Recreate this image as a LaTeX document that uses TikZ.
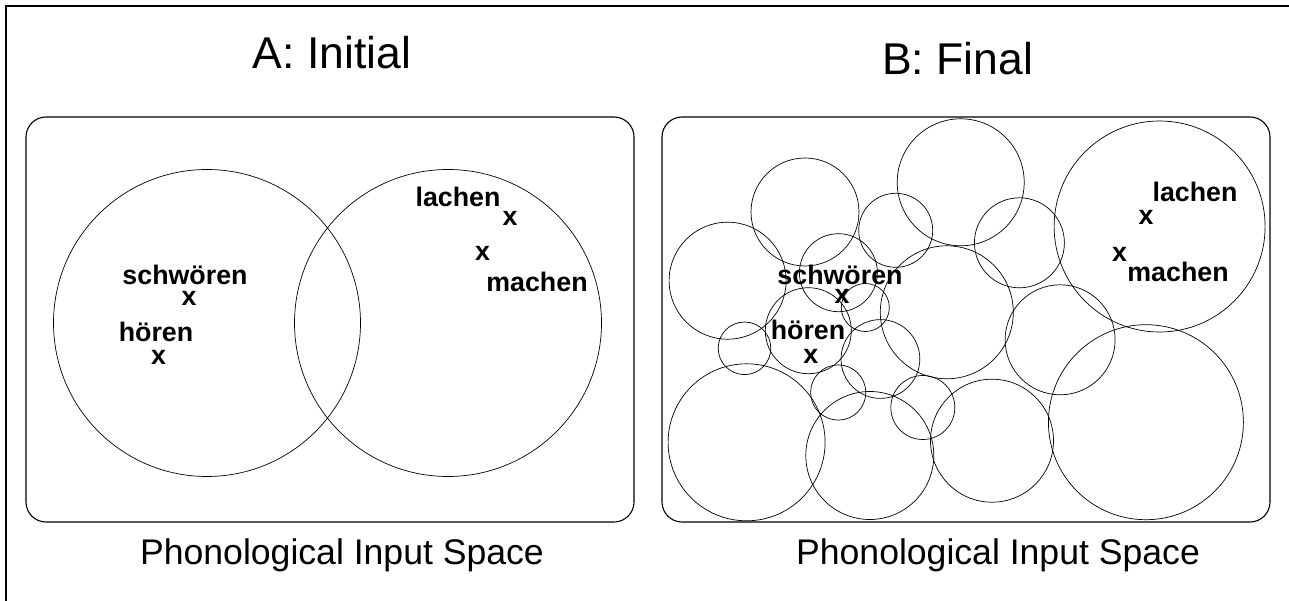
\documentclass[tikz,border=0pt]{standalone}
\usepackage{fontspec}
\setmainfont{Liberation Sans}
\usetikzlibrary{positioning}

\tikzset{
  heading/.style={font=\fontsize{44.5}{50}\selectfont, inner sep=0pt, anchor=base},
  caption/.style={font=\fontsize{35.6}{40}\selectfont, inner sep=0pt, anchor=base},
  word/.style={font=\fontsize{26.8}{30}\selectfont\bfseries, inner sep=0pt, anchor=base},
  cross/.style={font=\fontsize{26.8}{30}\selectfont\bfseries, inner sep=0pt},
  panel/.style={line width=1.1pt, rounded corners=20pt},
  blob/.style={line width=0.7pt}
}

\begin{document}
\begin{tikzpicture}[x=1pt, y=-1pt]
        \useasboundingbox (0,0) rectangle (1289,601);
        \draw[line width=1.5pt] (6,601) -- (6,6) -- (1289,6);

        \node[heading] (titleA) at (332,69) {A: Initial};
        \node[heading] (titleB) at (957.5,75) {B: Final};

        \draw[panel] (26,117) rectangle (634,522);
        \draw[panel] (662,117) rectangle (1270,522);

        \node[caption] (spaceA) at (342,564) {Phonological Input Space};
        \node[caption] (spaceB) at (998,564) {Phonological Input Space};

        \draw[blob] (207,323) circle[radius=153.5];
        \draw[blob] (448,323) circle[radius=153.5];

        \foreach \cx/\cy/\r in {805/212/54, 727.6/280.7/58.5, 838.4/272.7/39,
            895.7/230.3/37, 960.7/182.3/63.5, 1019.4/242.8/45, 1159.6/226.5/105.5,
            946.8/312.3/66.5, 808.3/330.7/43, 865.3/307.5/24, 744.5/348.3/26.3,
            880.4/359/39.4, 1060.1/339.8/55, 838.2/392.5/27.6, 922.8/407.5/32,
            746.6/442.3/78.5, 869.8/455.5/64, 992/440.7/61.5, 1145.9/422.2/97.5}
          \draw[blob] (\cx,\cy) circle[radius=\r];

        \node[word] (schwA) at (185,285) {schwören};
        \node[cross] (xschwA) at (189,298) {x};
        \node[word] (hoerA) at (156,341) {hören};
        \node[cross] (xhoerA) at (158.7,357) {x};
        \node[word] (lachA) at (458,207) {lachen};
        \node[cross] (xlachA) at (510,218) {x};
        \node[cross] (xmachA) at (482.5,253) {x};
        \node[word] (machA) at (537,292) {machen};

        \node[word] (schwB) at (840,285) {schwören};
        \node[cross] (xschwB) at (842,296) {x};
        \node[word] (hoerB) at (808,339) {hören};
        \node[cross] (xhoerB) at (810.8,356) {x};
        \node[word] (lachB) at (1195,202) {lachen};
        \node[cross] (xlachB) at (1146,217) {x};
        \node[cross] (xmachB) at (1119.5,254) {x};
        \node[word] (machB) at (1178,282) {machen};
      \end{tikzpicture}
\end{document}
